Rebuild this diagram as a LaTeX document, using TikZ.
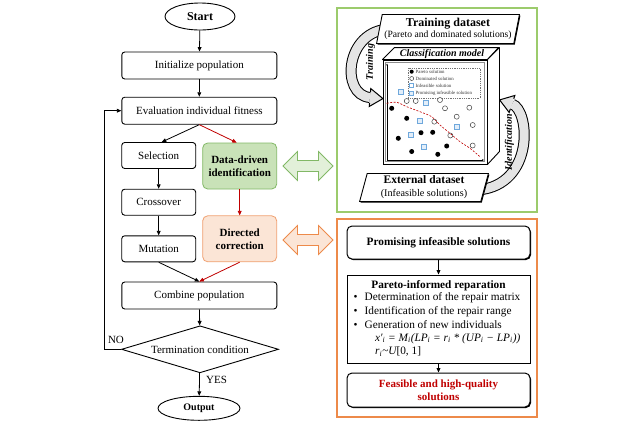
\documentclass[tikz,border=0pt]{standalone}
\usepackage{fontspec}
\setmainfont{Liberation Serif}
\usetikzlibrary{shapes.geometric,shapes.arrows,arrows.meta,calc,shadows}
\definecolor{myred}{HTML}{C00000}
\definecolor{gframe}{HTML}{9CCB6C}
\definecolor{gfill}{HTML}{C9E2B8}
\definecolor{gdraw}{HTML}{82B866}
\definecolor{garrfill}{HTML}{E2F0D9}
\definecolor{oframe}{HTML}{ED8A4A}
\definecolor{ofill}{HTML}{FBE5D6}
\definecolor{odraw}{HTML}{F0A070}
\definecolor{bluesq}{HTML}{6FA8DC}
\definecolor{bluefill}{HTML}{E3EEF9}
\definecolor{bandfill}{HTML}{E4E4E4}
\begin{document}
\begin{tikzpicture}[x=1pt,y=-1pt,
  font=\fontsize{11}{13}\selectfont,
  box/.style={draw, rounded corners=3pt, line width=0.9pt, minimum width=155pt, minimum height=27pt, inner sep=0pt},
  sbox/.style={box, minimum width=74pt, minimum height=26pt},
  colbox/.style={draw, rounded corners=5pt, line width=0.8pt, minimum width=74pt, minimum height=46pt, inner sep=0pt, align=center, font=\bfseries\fontsize{11}{13}\selectfont},
  arr/.style={-{Triangle[length=4.5pt,width=3.8pt]}, line width=0.8pt},
  redarr/.style={arr, draw=myred},
  shad/.style={drop shadow={shadow xshift=1pt, shadow yshift=-1pt, fill=black, opacity=1}},
  rbox/.style={draw, fill=white, line width=1pt, minimum width=183pt, inner sep=0pt, shad},
  para/.style={trapezium, trapezium left angle=76, trapezium right angle=104, trapezium stretches=true, draw, fill=white, line width=0.9pt, inner sep=0pt, align=center, shad},
  dot/.style={circle, fill=black, inner sep=0pt, minimum size=5pt},
  ocirc/.style={circle, draw=black!75, line width=0.5pt, fill=white, inner sep=0pt, minimum size=5pt},
  bsq/.style={rectangle, draw=bluesq, line width=0.6pt, fill=bluefill, inner sep=0pt, minimum size=5pt},
  legtext/.style={anchor=west, inner sep=0pt, font=\fontsize{4.8}{5}\selectfont, text=black!80}
]
\useasboundingbox (0,0) rectangle (640,424);

% ---------- left flowchart ----------
\node[draw, ellipse, line width=0.9pt, minimum width=70pt, minimum height=27pt, inner sep=0pt, font=\bfseries\fontsize{12}{13}\selectfont] (start) at (200,16.5) {Start};
\node[box] (init) at (199.3,65.5) {Initialize population};
\node[box] (eval) at (199.3,110.7) {Evaluation individual fitness};
\node[sbox] (sel) at (158.7,155.5) {Selection};
\node[sbox] (cross) at (158.7,202.2) {Crossover};
\node[sbox] (mut) at (158.7,248.8) {Mutation};
\node[colbox, fill=gfill, draw=gdraw] (data) at (239.7,166) {Data-driven\\identification};
\node[colbox, fill=ofill, draw=odraw] (dir) at (239.7,238.8) {Directed\\correction};
\node[box] (comb) at (199.3,295.5) {Combine population};
\node[diamond, draw, aspect=3.4, minimum width=157pt, minimum height=47pt, inner sep=0pt, line width=0.9pt] (term) at (200,349.3) {Termination condition};
\node[draw, ellipse, line width=0.9pt, minimum width=82pt, minimum height=24pt, inner sep=0pt, font=\bfseries] (out) at (199,408.3) {Output};

\draw[arr] (start) -- (init);
\draw[arr] (init) -- (eval);
\draw[arr] (eval.south) -- ($(sel.north)+(3,0)$);
\draw[redarr] (eval.south) -- ($(data.north)+(-3,0)$);
\draw[arr] (sel) -- (cross);
\draw[arr] (cross) -- (mut);
\draw[redarr] (data) -- (dir);
\draw[arr] (mut.south) -- (comb.north);
\draw[redarr] (dir.south) -- (comb.north);
\draw[arr] (comb) -- (term);
\draw[arr] (term) -- (out);
\node (yes) at (216.5,380) {YES};
\coordinate (loopc) at (104,349.3);
\draw[arr] (term.west) -- (loopc) |- (eval.west);
\node (no) at (116,340) {NO};

% ---------- double arrows ----------
\node[double arrow, draw=gdraw, fill=garrfill, line width=0.8pt, minimum height=50pt, minimum width=29pt, double arrow head extend=9pt, inner sep=5pt] (garr) at (308,166) {};
\node[double arrow, draw=oframe, fill=ofill, line width=0.8pt, minimum height=50pt, minimum width=29pt, double arrow head extend=9pt, inner sep=5pt] (oarr) at (308,240) {};

% ---------- frames ----------
\node[draw=gframe, line width=1.8pt, minimum width=200pt, minimum height=204pt, inner sep=0pt] (gf) at (437,110) {};
\node[draw=oframe, line width=1.8pt, minimum width=200pt, minimum height=198pt, inner sep=0pt] (of) at (437,318) {};

% ---------- training arrow ----------
\coordinate (trs) at (390,29);
\coordinate (tre) at (370,97.5);
\draw[line width=11pt, line cap=butt] (trs) .. controls (345,30) and (340,95) .. (tre);
\draw[line width=9pt, draw=bandfill, line cap=butt] (trs) .. controls (345,30) and (340,95) .. (tre);
\fill[bandfill] (369.25,106.47) -- (382.95,98.58) -- (370.75,88.53) -- cycle;
\draw[line width=1pt, line join=miter] (369.54,102.98) -- (369.25,106.47) -- (382.95,98.58) -- (370.75,88.53) -- (370.46,92.02);
\node[rotate=90, font=\bfseries\itshape\fontsize{10}{11}\selectfont] (trl) at (370.5,62) {Training};

% ---------- identification arrow ----------
\coordinate (ids) at (478,190);
\coordinate (ide) at (512,104);
\draw[line width=11pt, line cap=butt] (ids) .. controls (535,185) and (530,110) .. (ide);
\draw[line width=9pt, draw=bandfill, line cap=butt] (ids) .. controls (535,185) and (530,110) .. (ide);
\fill[bandfill] (514.84,95.46) -- (499.66,99.89) -- (509.16,112.54) -- cycle;
\draw[line width=1pt, line join=miter] (513.74,98.78) -- (514.84,95.46) -- (499.66,99.89) -- (509.16,112.54) -- (510.26,109.22);
\node[rotate=90, font=\bfseries\itshape\fontsize{10}{11}\selectfont] (idl) at (509.5,142) {Identification};

% ---------- training / external datasets ----------
\node[para, minimum width=143pt, minimum height=29pt, font=\fontsize{9.6}{11.6}\selectfont] (train) at (448,29)
  {{\bfseries\fontsize{12}{11.6}\selectfont Training dataset}\\(Pareto and dominated solutions)};
\node[para, minimum width=129pt, minimum height=28pt, font=\fontsize{10.2}{13}\selectfont] (ext) at (424,187.5)
  {{\bfseries\fontsize{11.5}{13}\selectfont External dataset}\\(Infeasible solutions)};

% ---------- classification model ----------
\node[draw, fill=white, line width=0.9pt, minimum width=104pt, minimum height=104pt, inner sep=0pt] (cm) at (435,112) {};
\draw[fill=white, line width=0.9pt, line join=round] (cm.north west) -- ++(12,-12) -- ++(104,0) -- (cm.north east) -- cycle;
\draw[fill=white, line width=0.9pt, line join=round] (cm.north east) -- ++(12,-12) -- ++(0,104) -- (cm.south east) -- cycle;
\node[font=\bfseries\itshape\fontsize{10}{11}\selectfont] (cmt) at (442,54.5) {Classification model};
\draw[black!45, line width=0.4pt] (385.5,62.5) rectangle (484.5,161.5);
\draw[line width=0.4pt, -{Stealth[length=2pt,width=1.6pt]}] (387,160) -- (387,63.5);
\draw[line width=0.4pt, -{Stealth[length=2pt,width=1.6pt]}] (387,160) -- (484,160);
% legend
\draw[black!55, line width=0.4pt, dash pattern=on 1pt off 0.8pt] (408,68) rectangle (480,98.5);
\node[dot, minimum size=4pt] (l1) at (411.7,71.7) {};
\node[legtext] at (415.5,71.7) {Pareto solution};
\node[ocirc, minimum size=4pt] (l2) at (411.7,78.5) {};
\node[legtext] at (415.5,78.5) {Dominated solution};
\node[bsq, fill=white, minimum size=4pt] (l3) at (411.7,85.7) {};
\node[legtext] at (415.5,85.7) {Infeasible solution};
\node[bsq, minimum size=4pt] (l4) at (411.7,93.2) {};
\node[legtext] at (415.5,93.2) {Promising infeasible solution};
% points
\foreach \p in {(391.7,108.3),(406.7,118.3),(421,132.7),(432.7,132.3),(398.3,138.3),(446.7,146),(411.7,151.5),(437.8,154.3)}
  \node[dot] at \p {};
\foreach \p in {(406.7,101),(415.7,101),(440,100),(445,108.3),(469.3,107.7),(456.7,116.7),(434.3,121.7),(472.7,125),(450.3,135.5),(472.7,145.5)}
  \node[ocirc] at \p {};
\foreach \p in {(400.5,91.7),(426,102.5),(419.6,120.8),(456.7,126.3),(410.8,134.3),(423.8,146.7)}
  \node[bsq] at \p {};
\draw[myred, line width=0.6pt, dash pattern=on 2pt off 1.5pt] plot[smooth] coordinates {(386.7,103.3) (396.7,102.3) (406.7,106.7) (420,111.7) (431.7,116.7) (440,125) (450,133.3) (460,141.7) (470,148.3) (480,156.7)};

% ---------- orange part ----------
\node[rbox, rounded corners=5pt, minimum height=33pt, font=\bfseries\fontsize{11.3}{13}\selectfont] (pis) at (438.5,242.5) {Promising infeasible solutions};
\node[rbox, minimum height=88pt] (pir) at (438.5,319) {};
\node[font=\bfseries\fontsize{11.3}{13}\selectfont] (pirt) at (438.5,285.5) {Pareto-informed reparation};
\begin{scope}[every node/.style={anchor=west, inner sep=0pt, font=\fontsize{11.3}{13}\selectfont}]
\node (b1) at (353.5,298) {\makebox[11pt][l]{\textbullet}Determination of the repair matrix};
\node (b2) at (353.5,311.5) {\makebox[11pt][l]{\textbullet}Identification of the repair range};
\node (b3) at (353.5,325) {\makebox[11pt][l]{\textbullet}Generation of new individuals};
\node (f1) at (375,338.5) {\itshape x′\textsubscript{i} = M\textsubscript{i}(LP\textsubscript{i} = r\textsubscript{i} * (UP\textsubscript{i} − LP\textsubscript{i}))};
\node (f2) at (375,351.5) {\itshape r\textsubscript{i}\upshape\textasciitilde\itshape U\upshape[0, 1]};
\end{scope}
\node[rbox, rounded corners=5pt, minimum height=34pt, align=center, font=\bfseries\fontsize{11}{13}\selectfont, text=myred] (fhs) at (438.5,390) {Feasible and high-quality\\solutions};
\draw[arr] (pis) -- (pir);
\draw[arr] (pir) -- (fhs);
\end{tikzpicture}
\end{document}
